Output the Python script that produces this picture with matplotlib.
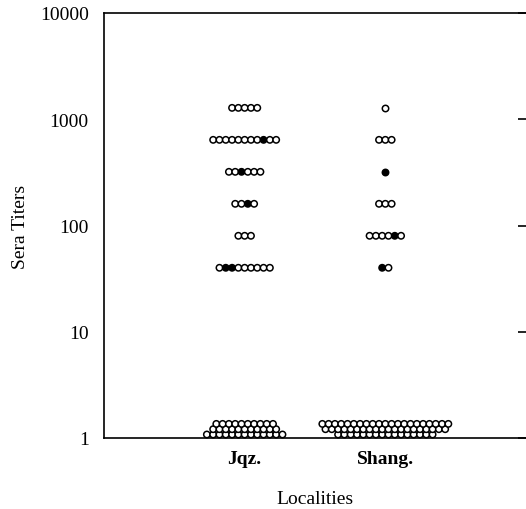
import numpy as np
from matplotlib import pyplot as plt

# Titulos de sueros por localidad (diluciones dobles)
titers = [40, 80, 160, 320, 640, 1280]
localities = ['Jqz.', 'Shang.']

jqz_counts = [9, 3, 4, 6, 11, 5]
jqz_filled = [[1, 2], [], [2], [2], [8], []]
shang_counts = [2, 6, 3, 1, 3, 1]
shang_filled = [[0], [4], [], [0], [], []]

# negativos (< 1), filas apiladas de abajo hacia arriba
jqz_neg_rows = [13, 11, 10]
shang_neg_rows = [16, 20, 21]

y_ticks = [1, 10, 100, 1000, 10000]
y_labels = ['1', '10', '100', '1000', '10000']

plt.rcParams['font.family'] = ['Liberation Serif', 'DejaVu Serif']

W, H = 526, 510
fig = plt.figure(figsize=(W/100, H/100), dpi=100)
ax = fig.add_axes([104/W, (H - 439)/H, (W - 104)/W, 425/H])
ax.set_yscale('log')
ax.set_ylim(1, 10000)
ax.set_xlim(-1, 2)

px_x = (W - 104) / 3.0        # pixeles por unidad en x
px_dec = 425 / 4.0            # pixeles por decada
sep = 6.3                     # separacion entre circulos, px
ms = 4.6


def fila(xc, y, n, llenos):
    xs = xc + (np.arange(n) - (n - 1)/2) * sep / px_x
    ys = np.full(n, y, dtype=float)
    colores = ['black' if i in llenos else 'white' for i in range(n)]
    ax.scatter(xs, ys, s=ms**2, c=colores, edgecolors='black',
               linewidths=1.1, zorder=3, clip_on=False)


grupos = [(jqz_counts, jqz_filled, jqz_neg_rows),
          (shang_counts, shang_filled, shang_neg_rows)]
for g, (cnt, fill, neg) in enumerate(grupos):
    for t, n, f in zip(titers, cnt, fill):
        fila(g, t, n, f)
    for k, n in enumerate(neg):
        dy = 3.5 + 5.3*k
        fila(g, 10**(dy/px_dec), n, [])

ax.set_xticks([0, 1])
ax.set_xticklabels(localities, fontsize=14, fontweight='bold')
ax.tick_params(axis='x', length=0, pad=9)
ax.set_yticks(y_ticks)
ax.set_yticklabels(y_labels, fontsize=14)
ax.minorticks_off()
ax.tick_params(axis='y', left=False, right=True, labelleft=True,
               direction='in', length=6, width=1.2, pad=11)
ax.spines['right'].set_visible(False)
for s in ['left', 'top', 'bottom']:
    ax.spines[s].set_linewidth(1.2)

ax.set_xlabel('Localities', fontsize=14, labelpad=16)
ax.set_ylabel('Sera Titers', fontsize=14, labelpad=8)

fig.savefig('out.png', dpi=100)
